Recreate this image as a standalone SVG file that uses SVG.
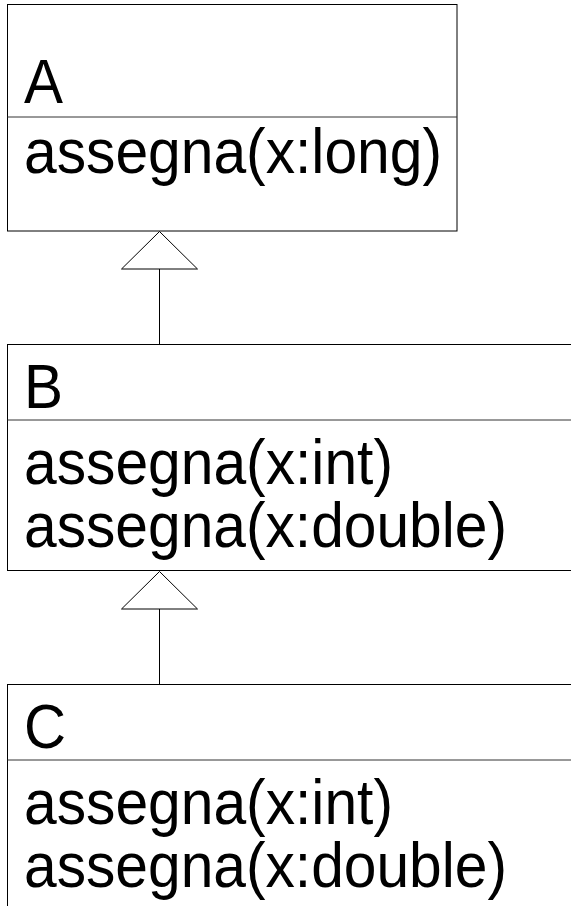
<svg xmlns="http://www.w3.org/2000/svg" width="571" height="906" viewBox="0 0 571 906">
<style>
.box{fill:#fff;stroke:#000;stroke-width:1}
.div{stroke:#333;stroke-width:1}
.t{font-family:"Liberation Sans",Arial,sans-serif;font-size:62.5px;fill:#000}
.edge{stroke:#000;stroke-width:1;fill:none}
.head{fill:#fff;stroke:#000;stroke-width:1}
</style>
<g id="connectors">
<line class="edge" x1="159.5" y1="269" x2="159.5" y2="344"/>
<polygon class="head" points="159.5,231.5 121.5,269 197.5,269"/>
<line class="edge" x1="159.5" y1="609" x2="159.5" y2="684"/>
<polygon class="head" points="159.5,571.5 121.5,609 197.5,609"/>
</g>
<g id="A">
<rect class="box" x="7.5" y="4.5" width="449.5" height="226.5"/>
<line class="div" x1="7.5" y1="117" x2="457" y2="117"/>
<text class="t" x="24" y="103.3" textLength="39" lengthAdjust="spacingAndGlyphs">A</text>
<text class="t" x="24" y="173.3" textLength="418" lengthAdjust="spacingAndGlyphs">assegna(x:long)</text>
</g>
<g id="B">
<rect class="box" x="7.5" y="344.5" width="580" height="226"/>
<line class="div" x1="7.5" y1="420" x2="580" y2="420"/>
<text class="t" x="24" y="408.3" textLength="39" lengthAdjust="spacingAndGlyphs">B</text>
<text class="t" x="24" y="484" textLength="369" lengthAdjust="spacingAndGlyphs">assegna(x:int)</text>
<text class="t" x="24" y="547" textLength="483" lengthAdjust="spacingAndGlyphs">assegna(x:double)</text>
</g>
<g id="C">
<rect class="box" x="7.5" y="684.5" width="580" height="240"/>
<line class="div" x1="7.5" y1="760" x2="580" y2="760"/>
<text class="t" x="24" y="748.3" textLength="42" lengthAdjust="spacingAndGlyphs">C</text>
<text class="t" x="24" y="824" textLength="369" lengthAdjust="spacingAndGlyphs">assegna(x:int)</text>
<text class="t" x="24" y="887" textLength="483" lengthAdjust="spacingAndGlyphs">assegna(x:double)</text>
</g>
</svg>
